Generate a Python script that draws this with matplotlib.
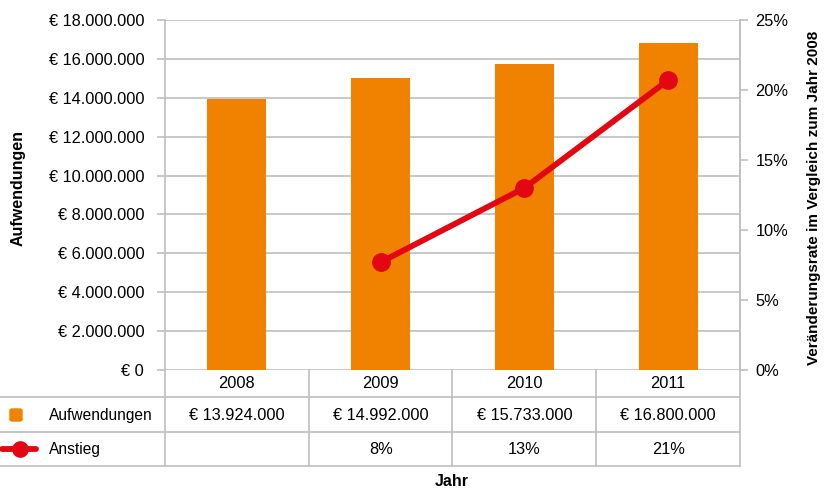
import matplotlib
matplotlib.use("Agg")
import matplotlib.pyplot as plt
import matplotlib.transforms as mtransforms
from matplotlib.patches import FancyBboxPatch
from matplotlib.lines import Line2D

years = ["2008", "2009", "2010", "2011"]
aufwendungen = [13924000, 14992000, 15733000, 16800000]
anstieg = [None, 7.7, 13.0, 20.7]
aufw_labels = ["€ 13.924.000", "€ 14.992.000", "€ 15.733.000", "€ 16.800.000"]
anstieg_labels = ["", "8%", "13%", "21%"]
left_ticks = list(range(0, 18000001, 2000000))
right_ticks = [0, 5, 10, 15, 20, 25]

ORANGE = "#f08200"
RED = "#e30613"
GRID = "#bfbfbf"
plt.rcParams["font.family"] = ["Liberation Sans", "DejaVu Sans"]
FS = 11.8

W, H = 830, 490
fig = plt.figure(figsize=(W / 100, H / 100), dpi=100)

def fx(px):
    return px / W

def fy(py):
    return 1 - py / H

ax = fig.add_axes([fx(165), fy(370), fx(740) - fx(165), fy(20) - fy(370)])
ax2 = ax.twinx()

x = list(range(len(years)))
ax.bar(x, aufwendungen, width=0.41, color=ORANGE, zorder=3)
ax.set_xlim(-0.5, len(years) - 0.5)
ax.set_ylim(0, 18000000)
ax.set_yticks(left_ticks)

def euro(v):
    s = f"{int(v):,}".replace(",", ".")
    return f"€ {s}"

ax.set_yticklabels([euro(v) for v in left_ticks], fontsize=FS)
ax.grid(axis="y", color=GRID, linewidth=1.2, zorder=0)
ax.set_axisbelow(True)
ax.set_xticks([])
for s in ["top", "bottom"]:
    ax.spines[s].set_visible(False)
for s in ["left", "right"]:
    ax.spines[s].set_color(GRID)
    ax.spines[s].set_linewidth(1.2)
ax.tick_params(axis="y", length=6, color=GRID, width=1.2, pad=9)

ax2.set_ylim(0, 25)
ax2.set_yticks(right_ticks)
ax2.set_yticklabels([f"{v}%" for v in right_ticks], fontsize=FS)
for s in ["top", "bottom", "left"]:
    ax2.spines[s].set_visible(False)
ax2.spines["right"].set_color(GRID)
ax2.spines["right"].set_linewidth(1.2)
ax2.tick_params(axis="y", length=6, color=GRID, width=1.2, pad=5)

lx = [i for i, v in enumerate(anstieg) if v is not None]
ly = [v for v in anstieg if v is not None]
ax2.plot(lx, ly, color=RED, linewidth=4.2, marker="o", markersize=12.5,
         solid_capstyle="round", zorder=5, clip_on=False)

fig.text(fx(18), fy(188), "Aufwendungen", rotation=90, fontsize=11.5,
         fontweight="bold", ha="center", va="center")
fig.text(fx(814), fy(198), "Veränderungsrate im Vergleich zum Jahr 2008",
         rotation=90, fontsize=11, fontweight="bold", ha="center", va="center")
fig.text(fx(452), fy(481), "Jahr", fontsize=11.5, fontweight="bold",
         ha="center", va="center")

# data table
col_edges = [165, 309, 452, 596, 740]
for y in [397, 432, 466]:
    fig.add_artist(Line2D([fx(0), fx(740)], [fy(y), fy(y)], color=GRID, linewidth=1.2))
for xe in col_edges:
    fig.add_artist(Line2D([fx(xe), fx(xe)], [fy(370), fy(466)], color=GRID, linewidth=1.2))

btr = mtransforms.blended_transform_factory(ax.transData, fig.transFigure)
for i, yr in enumerate(years):
    ax.text(i, fy(383), yr, transform=btr, ha="center", va="center", fontsize=FS)
    ax.text(i, fy(415), aufw_labels[i], transform=btr, ha="center", va="center", fontsize=FS)
    ax.text(i, fy(449), anstieg_labels[i], transform=btr, ha="center", va="center", fontsize=FS)

# legend keys
fig.add_artist(FancyBboxPatch((fx(10), fy(421)), fx(12), fy(409) - fy(421),
                              boxstyle="round,pad=0,rounding_size=0.003",
                              color=ORANGE, transform=fig.transFigure))
fig.add_artist(Line2D([fx(2), fx(36)], [fy(449), fy(449)], color=RED, linewidth=4.2,
                      solid_capstyle="round"))
fig.add_artist(Line2D([fx(20)], [fy(449)], color=RED, marker="o", markersize=11))
fig.text(fx(49), fy(415), "Aufwendungen", fontsize=11.2, ha="left", va="center")
fig.text(fx(49), fy(449), "Anstieg", fontsize=11.2, ha="left", va="center")

fig.savefig("out.png", dpi=100)
